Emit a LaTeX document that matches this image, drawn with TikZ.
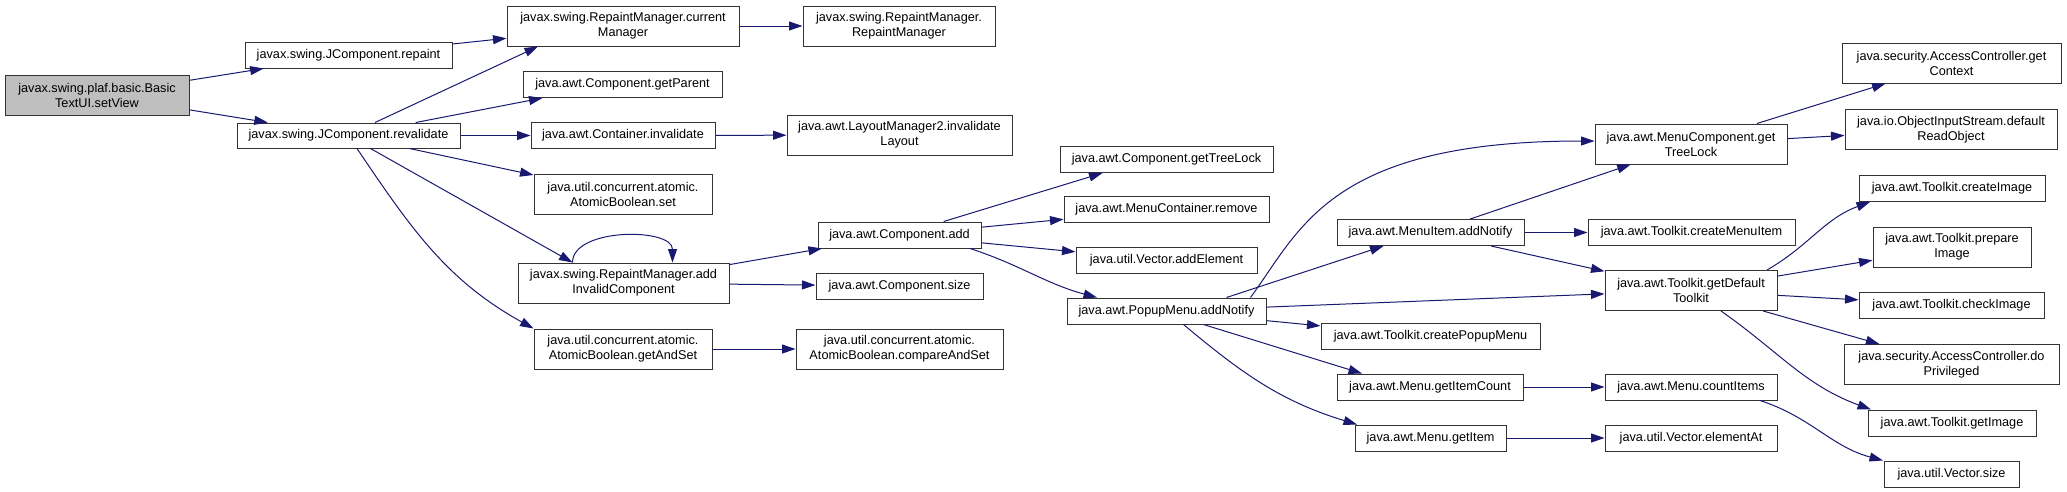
\documentclass[tikz,border=0pt]{standalone}
\usepackage{fontspec}
\setmainfont{Liberation Sans}
\usepackage{xcolor}
\usepackage{tikz}
\usetikzlibrary{arrows.meta, positioning}
\definecolor{callblue}{RGB}{25,25,112}
\definecolor{rootgray}{RGB}{191,191,191}
\tikzset{
  fn/.style={rectangle, draw=black!80, line width=1pt, fill=white, inner sep=0pt, align=center, minimum height=26pt, font=\fontsize{12.7}{15}\selectfont},
  fntwo/.style={fn, minimum height=40pt},
  fnroot/.style={fntwo, fill=rootgray},
  callarrow/.style={-{Triangle[length=13.5pt,width=9pt]}, draw=callblue, line width=1pt},
}

\begin{document}
\begin{tikzpicture}[x=1pt, y=1pt]
\useasboundingbox (0,0) rectangle (2067,-491);
\node[fnroot, minimum width=184pt] (setView) at (97,-95) {javax.swing.plaf.basic.Basic\\TextUI.setView};
\node[fn, minimum width=207pt] (repaint) at (348.5,-55) {javax.swing.JComponent.repaint};
\node[fn, minimum width=223pt, minimum height=25pt] (revalidate) at (348.5,-135.5) {javax.swing.JComponent.revalidate};
\node[fntwo, minimum width=232pt] (curMgr) at (623,-26) {javax.swing.RepaintManager.current\\Manager};
\node[fntwo, minimum width=192pt] (rmCtor) at (899,-26) {javax.swing.RepaintManager.\\RepaintManager};
\node[fn, minimum width=199pt] (getParent) at (622.5,-84.5) {java.awt.Component.getParent};
\node[fn, minimum width=184pt] (contInval) at (623,-135.5) {java.awt.Container.invalidate};
\node[fntwo, minimum width=225pt] (invLayout) at (899.5,-135) {java.awt.LayoutManager2.invalidate\\Layout};
\node[fntwo, minimum width=178pt] (abSet) at (623,-194) {java.util.concurrent.atomic.\\AtomicBoolean.set};
\node[fntwo, minimum width=211pt] (addInvalid) at (623.5,-283) {javax.swing.RepaintManager.add\\InvalidComponent};
\node[fn, minimum width=163pt] (compAdd) at (899.5,-235) {java.awt.Component.add};
\node[fn, minimum width=167pt] (compSize) at (899.5,-286) {java.awt.Component.size};
\node[fntwo, minimum width=178pt] (abGetSet) at (623,-349) {java.util.concurrent.atomic.\\AtomicBoolean.getAndSet};
\node[fntwo, minimum width=207pt] (abCmpSet) at (899.5,-349) {java.util.concurrent.atomic.\\AtomicBoolean.compareAndSet};
\node[fn, minimum width=213pt] (getTreeLock) at (1166.5,-159.5) {java.awt.Component.getTreeLock};
\node[fn, minimum width=205pt] (mcRemove) at (1166.5,-209.5) {java.awt.MenuContainer.remove};
\node[fn, minimum width=181pt] (addElement) at (1166.5,-260.5) {java.util.Vector.addElement};
\node[fn, minimum width=199pt] (popupNotify) at (1166.5,-311) {java.awt.PopupMenu.addNotify};
\node[fn, minimum width=187pt] (itemNotify) at (1430.5,-232.5) {java.awt.MenuItem.addNotify};
\node[fn, minimum width=219pt] (createPopup) at (1430.5,-336.5) {java.awt.Toolkit.createPopupMenu};
\node[fn, minimum width=186pt] (getItemCount) at (1430,-387) {java.awt.Menu.getItemCount};
\node[fn, minimum width=151pt] (getItem) at (1430.5,-438) {java.awt.Menu.getItem};
\node[fntwo, minimum width=192pt] (menuTreeLock) at (1691,-144) {java.awt.MenuComponent.get\\TreeLock};
\node[fn, minimum width=207pt] (createMenuItem) at (1691.5,-232.5) {java.awt.Toolkit.createMenuItem};
\node[fntwo, minimum width=172pt] (defToolkit) at (1691,-290.5) {java.awt.Toolkit.getDefault\\Toolkit};
\node[fn, minimum width=172pt] (countItems) at (1691,-387) {java.awt.Menu.countItems};
\node[fn, minimum width=172pt] (elementAt) at (1691,-438) {java.util.Vector.elementAt};
\node[fntwo, minimum width=219pt] (getContext) at (1951.5,-63) {java.security.AccessController.get\\Context};
\node[fntwo, minimum width=212pt] (readObject) at (1951,-129.5) {java.io.ObjectInputStream.default\\ReadObject};
\node[fn, minimum width=186pt] (createImage) at (1952,-188.5) {java.awt.Toolkit.createImage};
\node[fntwo, minimum width=158pt] (prepareImage) at (1952,-247) {java.awt.Toolkit.prepare\\Image};
\node[fn, minimum width=185pt] (checkImage) at (1951.5,-305) {java.awt.Toolkit.checkImage};
\node[fntwo, minimum width=215pt] (doPriv) at (1951.5,-364.5) {java.security.AccessController.do\\Privileged};
\node[fn, minimum width=168pt] (getImage) at (1952,-423) {java.awt.Toolkit.getImage};
\node[fn, minimum width=135pt] (vecSize) at (1951.5,-474) {java.util.Vector.size};

\draw[callarrow] (setView) -- (repaint);
\draw[callarrow] (setView) -- (revalidate);
\draw[callarrow] (repaint) -- (curMgr);
\draw[callarrow] (curMgr) -- (rmCtor);
\draw[callarrow] ([xshift=26.5pt]revalidate.north) -- ([xshift=-85pt]curMgr.south);
\draw[callarrow] (revalidate) -- ([xshift=-80pt]getParent.south);
\draw[callarrow] (revalidate) -- (contInval);
\draw[callarrow] (revalidate) -- (abSet);
\draw[callarrow] ([xshift=22pt]revalidate.south) -- ([xshift=-51pt]addInvalid.north);
\draw[callarrow] ([xshift=8.5pt]revalidate.south) to[out=-56,in=151] (abGetSet.north west);
\draw[callarrow] (contInval) -- (invLayout);
\draw[callarrow] ([xshift=-51pt]addInvalid.north) .. controls +(0,35) and +(0,35) .. ([xshift=49pt]addInvalid.north);
\draw[callarrow] (addInvalid) -- (compAdd);
\draw[callarrow] (addInvalid) -- (compSize);
\draw[callarrow] (abGetSet) -- (abCmpSet);
\draw[callarrow] (compAdd) -- ([xshift=-64pt]getTreeLock.south);
\draw[callarrow] (compAdd) -- (mcRemove);
\draw[callarrow] (compAdd) -- (addElement);
\draw[callarrow] ([xshift=70.5pt]compAdd.south) to[out=-18,in=165] ([xshift=-69.5pt]popupNotify.north);
\draw[callarrow] ([xshift=-16pt]popupNotify.north east) .. controls +(50,68) and +(-265,0) .. ([yshift=3pt]menuTreeLock.west);
\draw[callarrow] ([xshift=60pt]popupNotify.north) -- ([xshift=-47pt]itemNotify.south);
\draw[callarrow] (popupNotify) -- (defToolkit);
\draw[callarrow] (popupNotify) -- (createPopup);
\draw[callarrow] ([xshift=37pt]popupNotify.south) -- ([xshift=-68pt]getItemCount.north);
\draw[callarrow] ([xshift=17pt]popupNotify.south) to[out=-40,in=163] ([xshift=-73.5pt]getItem.north);
\draw[callarrow] (itemNotify) -- (menuTreeLock);
\draw[callarrow] (itemNotify) -- (createMenuItem);
\draw[callarrow] (itemNotify) -- (defToolkit);
\draw[callarrow] (menuTreeLock) -- (getContext);
\draw[callarrow] (menuTreeLock) -- (readObject);
\draw[callarrow] ([xshift=76pt]defToolkit.north) to[out=30,in=200] ([xshift=-82pt]createImage.south);
\draw[callarrow] (defToolkit) -- (prepareImage);
\draw[callarrow] (defToolkit) -- (checkImage);
\draw[callarrow] (defToolkit) -- (doPriv);
\draw[callarrow] ([xshift=30pt]defToolkit.south) to[out=-35,in=160] ([xshift=-81pt]getImage.north);
\draw[callarrow] (getItemCount) -- (countItems);
\draw[callarrow] ([xshift=69pt]countItems.south) to[out=-18,in=165] ([xshift=-68.5pt]vecSize.north);
\draw[callarrow] (getItem) -- (elementAt);
\end{tikzpicture}
\end{document}
